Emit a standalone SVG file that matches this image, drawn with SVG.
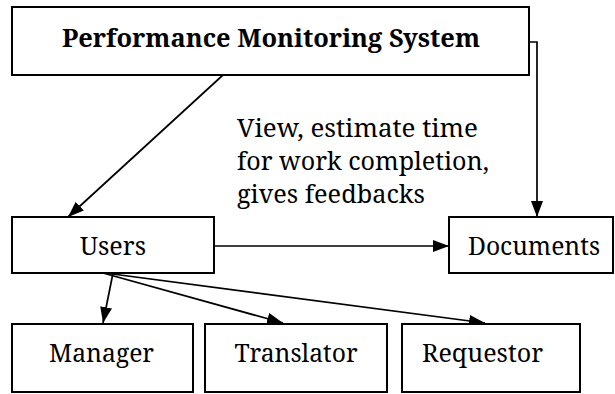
<svg xmlns="http://www.w3.org/2000/svg" width="615" height="394" viewBox="0 0 615 394">
<style>
.box{fill:#fff;stroke:#000;stroke-width:2}
text{font-family:'Noto Serif','DejaVu Serif',serif;font-size:26px;fill:#000}
.t{text-anchor:middle}
.b{font-weight:bold}
.lb{font-size:25px}
.c{fill:none;stroke:#000;stroke-width:1.7}
</style>
<defs>
<marker id="ah" markerUnits="userSpaceOnUse" markerWidth="17" markerHeight="13" refX="16" refY="6" orient="auto">
<path d="M0,0 L16,6 L0,12 z" fill="#000"/>
</marker>
</defs>
<rect width="615" height="394" fill="#fff"/>
<g id="connectors">
<line class="c" x1="223" y1="75" x2="68" y2="217" marker-end="url(#ah)"/>
<polyline class="c" points="529,42 537,42 537,217" marker-end="url(#ah)"/>
<line class="c" x1="214" y1="246" x2="449" y2="246" marker-end="url(#ah)"/>
<line class="c" x1="113" y1="273" x2="103" y2="323" marker-end="url(#ah)"/>
<line class="c" x1="103" y1="273" x2="283" y2="323" marker-end="url(#ah)"/>
<line class="c" x1="105" y1="273" x2="485" y2="323" marker-end="url(#ah)"/>
</g>
<g id="pms">
<rect class="box" x="12" y="7" width="517" height="68"/>
<text class="t b" x="271" y="47" textLength="418" lengthAdjust="spacingAndGlyphs">Performance Monitoring System</text>
</g>
<g id="label">
<text class="lb" x="237" y="137" textLength="241" lengthAdjust="spacingAndGlyphs">View, estimate time</text>
<text class="lb" x="237" y="170" textLength="252" lengthAdjust="spacingAndGlyphs">for work completion,</text>
<text class="lb" x="237" y="203" textLength="188" lengthAdjust="spacingAndGlyphs">gives feedbacks</text>
</g>
<g id="users">
<rect class="box" x="12" y="217" width="202" height="56"/>
<text class="t" x="113" y="255" textLength="66" lengthAdjust="spacingAndGlyphs">Users</text>
</g>
<g id="documents">
<rect class="box" x="449" y="217" width="164" height="56"/>
<text class="t" x="534" y="255" textLength="132" lengthAdjust="spacingAndGlyphs">Documents</text>
</g>
<g id="manager">
<rect class="box" x="12" y="324" width="181" height="68"/>
<text class="t" x="101.5" y="362" textLength="105" lengthAdjust="spacingAndGlyphs">Manager</text>
</g>
<g id="translator">
<rect class="box" x="205" y="324" width="182" height="68"/>
<text class="t" x="296" y="362" textLength="123" lengthAdjust="spacingAndGlyphs">Translator</text>
</g>
<g id="requestor">
<rect class="box" x="402" y="324" width="178" height="68"/>
<text class="t" x="482.5" y="362" textLength="121" lengthAdjust="spacingAndGlyphs">Requestor</text>
</g>
</svg>
